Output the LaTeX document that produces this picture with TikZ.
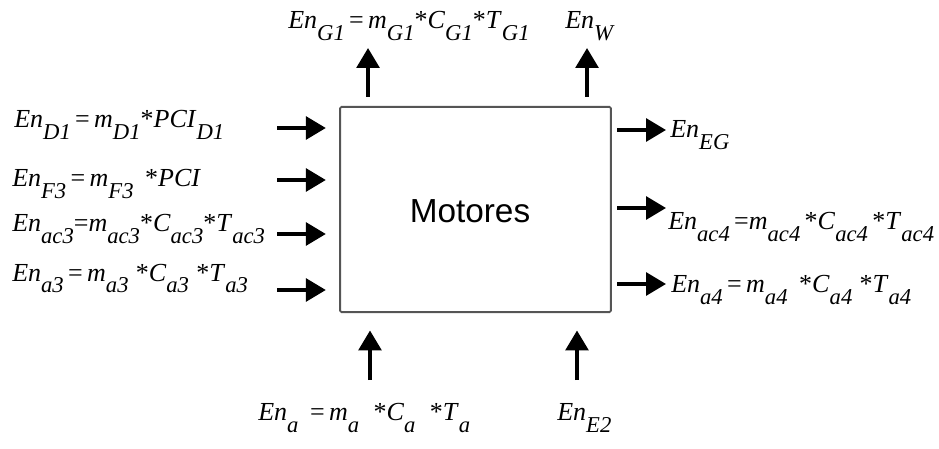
\documentclass[tikz,border=0pt]{standalone}
\usepackage{fontspec}
\setmainfont{Liberation Serif}
\newfontfamily\boxfont{Liberation Sans}
\usetikzlibrary{arrows.meta,positioning}
\definecolor{MotorEdge}{HTML}{555555}
% lowered subscript, as in the original equations
\newcommand{\lo}[1]{\raisebox{-9pt}{\fontsize{17}{17}\selectfont\textit{#1}}}
\tikzset{
  flow/.style={-{Triangle[length=15pt,width=17pt]}, line width=3pt, draw=black},
  motor/.style={draw=MotorEdge, line width=1.4pt, rounded corners=1pt,
                minimum width=203pt, minimum height=154pt},
  motorlabel/.style={font=\boxfont\fontsize{25}{25}\selectfont},
  eqn/.style={inner sep=0pt, anchor=base west, font=\fontsize{19.5}{19.5}\selectfont},
}

\begin{document}
\begin{tikzpicture}[x=0.75pt,y=-0.75pt]
  \useasboundingbox (0,0) rectangle (939,449);
  \node[motor] (box) at (475.5,209.5) {};
  \node[motorlabel] (motores) at (470,211) {Motores};

  % inputs on the left
  \node[eqn] (eD1) at (14,128) {\textit{En}\lo{D1}\,=\,\textit{m}\lo{D1}*\textit{PCI}\lo{D1}};
  \node[eqn] (eF3) at (12,187) {\textit{En}\lo{F3}\,=\,\textit{m}\lo{F3}\;\,*\textit{PCI}};
  \node[eqn] (eac3) at (12,232) {\textit{En}\lo{ac3}=\textit{m}\lo{ac3}*\textit{C}\lo{ac3}*\textit{T}\lo{ac3}};
  \node[eqn] (ea3) at (12,281) {\textit{En}\lo{a3}\,=\,\textit{m}\lo{a3}\;*\textit{C}\lo{a3}\;*\textit{T}\lo{a3}};
  \coordinate (cD1) at (277,128);
  \coordinate (cF3) at (277,180);
  \coordinate (cac3) at (277,234);
  \coordinate (ca3) at (277,290);
  \foreach \c in {cD1,cF3,cac3,ca3}
    \draw[flow, shorten >=10pt] (\c) -- (\c -| box.west);

  % outputs on the right
  \coordinate (cEG) at (666,130);
  \coordinate (cac4) at (666,208);
  \coordinate (ca4) at (666,284);
  \foreach \c in {cEG,cac4,ca4}
    \draw[flow, shorten <=4pt] (\c -| box.east) -- (\c);
  \node[eqn] (eEG) at (670,138) {\textit{En}\lo{EG}};
  \node[eqn] (eac4) at (668,229) {\textit{En}\lo{ac4}\,=\textit{m}\lo{ac4}\,*\textit{C}\lo{ac4}\,*\textit{T}\lo{ac4}};
  \node[eqn] (ea4) at (671,292) {\textit{En}\lo{a4}\,=\,\textit{m}\lo{a4}\;\,*\textit{C}\lo{a4}\;*\textit{T}\lo{a4}};

  % outputs on top
  \coordinate (cG1) at (368,48);
  \coordinate (cW) at (587,48);
  \foreach \c in {cG1,cW}
    \draw[flow, shorten <=7pt] (\c |- box.north) -- (\c);
  \node[eqn] (eG1) at (288,29) {\textit{En}\lo{G1}\,=\,\textit{m}\lo{G1}*\textit{C}\lo{G1}*\textit{T}\lo{G1}};
  \node[eqn] (eW) at (565,29) {\textit{En}\lo{W}};

  % inputs from below
  \coordinate (ca) at (370,380);
  \coordinate (cE2) at (577,380);
  \foreach \c in {ca,cE2}
    \draw[flow, shorten >=13pt] (\c) -- (\c |- box.south);
  \node[eqn] (ea) at (258,420) {\textit{En}\lo{a}\;\,=\,\textit{m}\lo{a}\;\;*\textit{C}\lo{a}\;\;*\textit{T}\lo{a}};
  \node[eqn] (eE2) at (557,420) {\textit{En}\lo{E2}};
\end{tikzpicture}
\end{document}
